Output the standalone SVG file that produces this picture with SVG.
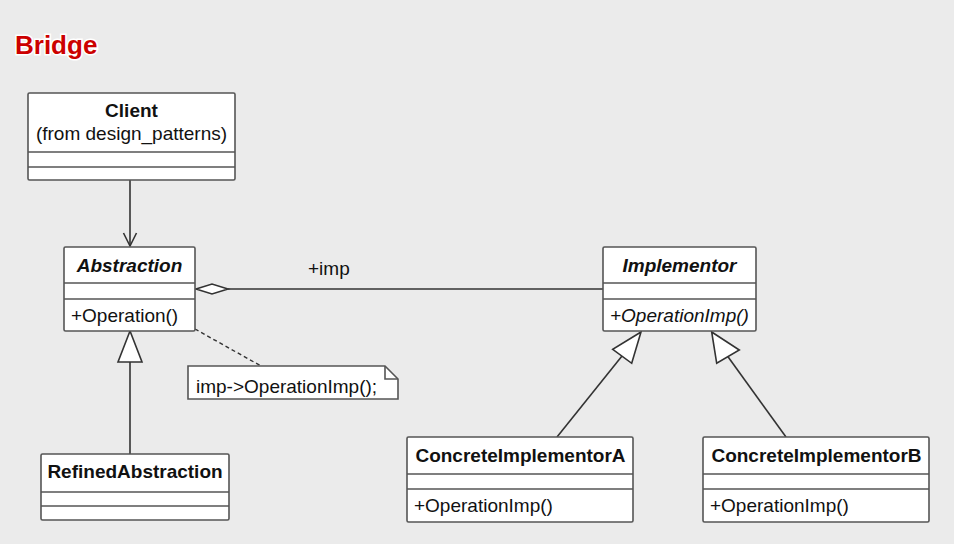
<svg xmlns="http://www.w3.org/2000/svg" width="954" height="544" viewBox="0 0 954 544">
<style>
  .bg{fill:#ebebeb}
  .box{fill:#ffffff;stroke:#555555;stroke-width:1.6}
  .div{stroke:#555555;stroke-width:1.6;fill:none}
  .t{font-family:"Liberation Sans",Arial,sans-serif;font-size:19px;fill:#111111}
  .b{font-weight:bold}
  .i{font-style:italic}
  .c{text-anchor:middle}
  .ln{stroke:#333333;stroke-width:1.6;fill:none}
  .dash{stroke:#333333;stroke-width:1.4;fill:none;stroke-dasharray:4 3}
  .tri{fill:#ffffff;stroke:#333333;stroke-width:1.6}
  .title{font-family:"Liberation Sans",Arial,sans-serif;font-size:26px;font-weight:bold;fill:#cc0000;stroke:#ffffff;stroke-width:3;paint-order:stroke}
</style>
<rect class="bg" x="0" y="0" width="954" height="544"/>
<text class="title" x="15" y="54">Bridge</text>

<g id="connectors">
  <line class="ln" x1="130" y1="180" x2="130" y2="246"/>
  <polyline class="ln" points="123.5,233 130,246 136.5,233"/>
  <line class="ln" x1="228" y1="289" x2="603" y2="289"/>
  <polygon class="tri" points="196,289 212,284 228,289 212,294"/>
  <text class="t" x="308" y="275">+imp</text>
  <line class="dash" x1="195" y1="329" x2="261" y2="366"/>
  <line class="ln" x1="130" y1="362" x2="130" y2="454"/>
  <polygon class="tri" points="130,331 118,362 142,362"/>
  <line class="ln" x1="622" y1="356" x2="557" y2="437"/>
  <polygon class="tri" points="641,332 612.7,349.3 631.7,363.3"/>
  <line class="ln" x1="728" y1="356.7" x2="786" y2="437"/>
  <polygon class="tri" points="711.7,332 716.7,363.3 739.3,350"/>
</g>

<g id="client">
  <rect class="box" x="28" y="93" width="207" height="87" rx="1.5"/>
  <line class="div" x1="28" y1="152" x2="235" y2="152"/>
  <line class="div" x1="28" y1="167" x2="235" y2="167"/>
  <text class="t b c" x="131.5" y="117">Client</text>
  <text class="t c" x="131.5" y="140">(from design_patterns)</text>
</g>

<g id="abstraction">
  <rect class="box" x="64" y="247" width="131" height="84" rx="1.5"/>
  <line class="div" x1="64" y1="283" x2="195" y2="283"/>
  <line class="div" x1="64" y1="299" x2="195" y2="299"/>
  <text class="t b i c" x="129.5" y="272">Abstraction</text>
  <text class="t" x="71" y="322">+Operation()</text>
</g>

<g id="implementor">
  <rect class="box" x="603" y="247" width="153" height="84" rx="1.5"/>
  <line class="div" x1="603" y1="283" x2="756" y2="283"/>
  <line class="div" x1="603" y1="299" x2="756" y2="299"/>
  <text class="t b i c" x="679.5" y="272">Implementor</text>
  <text class="t i" x="610" y="322">+OperationImp()</text>
</g>

<g id="note">
  <path class="box" d="M188,366 H385 L398,379 V399 H188 Z"/>
  <path class="div" d="M385,366 V379 H398"/>
  <text class="t" x="196" y="393">imp-&gt;OperationImp();</text>
</g>

<g id="refinedAbstraction">
  <rect class="box" x="41" y="454" width="188" height="66" rx="1.5"/>
  <line class="div" x1="41" y1="492" x2="229" y2="492"/>
  <line class="div" x1="41" y1="506" x2="229" y2="506"/>
  <text class="t b c" x="135" y="478">RefinedAbstraction</text>
</g>

<g id="concreteImplementorA">
  <rect class="box" x="407" y="437" width="226" height="85" rx="1.5"/>
  <line class="div" x1="407" y1="474" x2="633" y2="474"/>
  <line class="div" x1="407" y1="489" x2="633" y2="489"/>
  <text class="t b c" x="520.5" y="461.5">ConcreteImplementorA</text>
  <text class="t" x="414" y="511.5">+OperationImp()</text>
</g>

<g id="concreteImplementorB">
  <rect class="box" x="703" y="437" width="226" height="85" rx="1.5"/>
  <line class="div" x1="703" y1="474" x2="929" y2="474"/>
  <line class="div" x1="703" y1="489" x2="929" y2="489"/>
  <text class="t b c" x="816.5" y="461.5">ConcreteImplementorB</text>
  <text class="t" x="710" y="511.5">+OperationImp()</text>
</g>
</svg>
